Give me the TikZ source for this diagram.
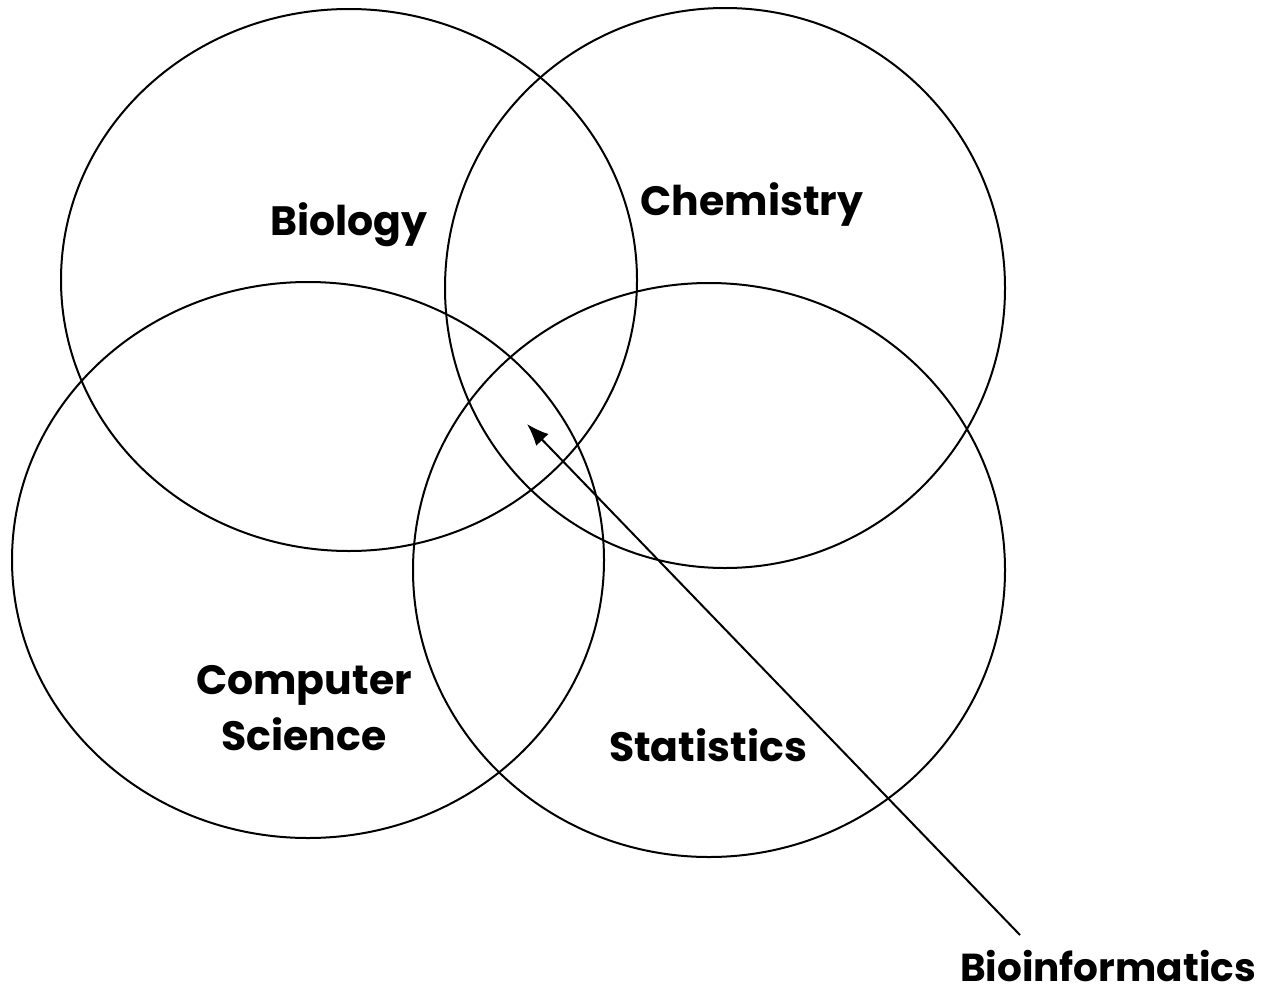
\documentclass[tikz,border=0pt]{standalone}
\usepackage{fontspec}
\setmainfont{Poppins}[BoldFont={* Bold}]
\usetikzlibrary{shapes.geometric,arrows.meta}
\begin{document}
\begin{tikzpicture}[x=1pt,y=-1pt,
  field/.style={ellipse,draw,line width=2pt,inner sep=0pt},
  lbl/.style={font=\bfseries\fontsize{41}{56}\selectfont,align=center,inner sep=0pt}]
\useasboundingbox (0,0) rectangle (1271,998);
% four overlapping fields
\node[field,minimum width=576pt,minimum height=542pt] (bio)  at (349,280) {};
\node[field,minimum width=560pt,minimum height=560pt] (chem) at (725,288) {};
\node[field,minimum width=592pt,minimum height=556pt] (cs)   at (308,560) {};
\node[field,minimum width=592pt,minimum height=574pt] (stat) at (709,570) {};
% labels
\node[lbl] (lbio)  at (349,225) {Biology};
\node[lbl] (lchem) at (752,205) {Chemistry};
\node[lbl] (lcs)   at (304,708) {Computer\\Science};
\node[lbl] (lstat) at (708,745) {Statistics};
\node[lbl,anchor=base,font=\bfseries\fontsize{39}{48}\selectfont] (lbif) at (1108,981) {Bioinformatics};
% pointer into the shared centre
\coordinate (tail) at (1020,935);
\coordinate (head) at (527,424);
\draw[line width=2pt,-{Latex[length=22pt,width=17pt]}] (tail) -- (head);
\end{tikzpicture}
\end{document}
